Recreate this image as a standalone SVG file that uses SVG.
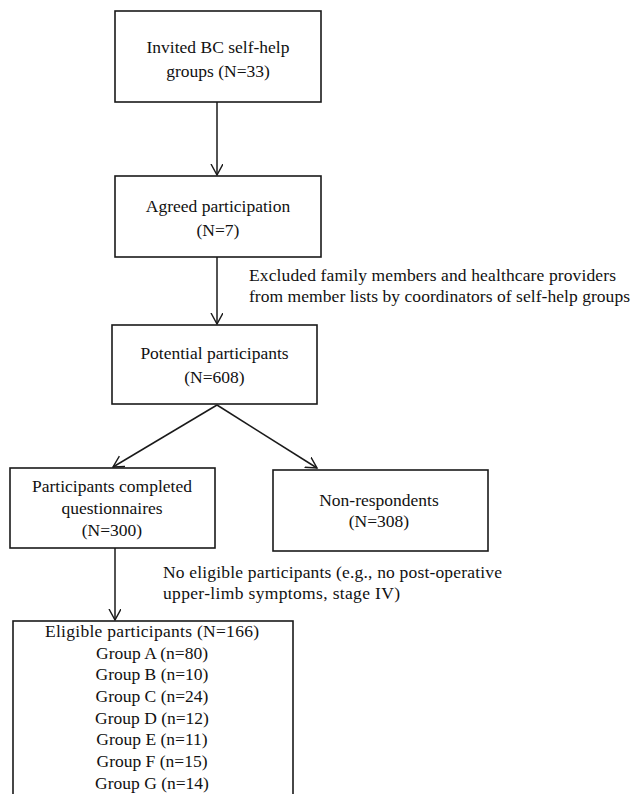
<svg xmlns="http://www.w3.org/2000/svg" width="632" height="794" viewBox="0 0 632 794">
<style>
.box{fill:#fff;stroke:#1a1a1a;stroke-width:1.6}
.t{font-family:"Liberation Serif","Times New Roman",serif;font-size:17.5px;fill:#111}
.c{text-anchor:middle}
.ln{stroke:#1a1a1a;stroke-width:1.5;fill:none}
</style>
<defs>
<marker id="ah" markerUnits="userSpaceOnUse" markerWidth="14" markerHeight="14" refX="11" refY="6" orient="auto">
<path d="M0,0 L11,6 L0,12" fill="none" stroke="#1a1a1a" stroke-width="1.4"/>
</marker>
</defs>
<rect width="632" height="794" fill="#fff"/>
<g id="connectors">
<line class="ln" x1="217" y1="102" x2="217" y2="175" marker-end="url(#ah)"/>
<line class="ln" x1="217" y1="257" x2="217" y2="324" marker-end="url(#ah)"/>
<line class="ln" x1="217" y1="405" x2="113" y2="467" marker-end="url(#ah)"/>
<line class="ln" x1="217" y1="405" x2="317" y2="468" marker-end="url(#ah)"/>
<line class="ln" x1="115" y1="548" x2="115" y2="620" marker-end="url(#ah)"/>
</g>
<g id="n1">
<rect class="box" x="115" y="11" width="206" height="91"/>
<text class="t c" x="218" y="53">Invited BC self-help</text>
<text class="t c" x="218" y="77">groups (N=33)</text>
</g>
<g id="n2">
<rect class="box" x="115" y="176" width="206" height="81"/>
<text class="t c" x="218" y="212">Agreed participation</text>
<text class="t c" x="218" y="236">(N=7)</text>
</g>
<g id="excl1">
<text class="t" x="249" y="281" textLength="367" lengthAdjust="spacing">Excluded family members and healthcare providers</text>
<text class="t" x="249" y="302" textLength="381" lengthAdjust="spacing">from member lists by coordinators of self-help groups</text>
</g>
<g id="n3">
<rect class="box" x="112" y="325" width="205" height="79"/>
<text class="t c" x="214.5" y="359">Potential participants</text>
<text class="t c" x="214.5" y="383">(N=608)</text>
</g>
<g id="n4">
<rect class="box" x="10" y="468" width="205" height="80"/>
<text class="t c" x="112" y="492">Participants completed</text>
<text class="t c" x="112" y="514">questionnaires</text>
<text class="t c" x="112" y="536">(N=300)</text>
</g>
<g id="n5">
<rect class="box" x="273" y="470" width="215" height="81"/>
<text class="t c" x="379" y="506">Non-respondents</text>
<text class="t c" x="379" y="527">(N=308)</text>
</g>
<g id="excl2">
<text class="t" x="163" y="578" textLength="339" lengthAdjust="spacing">No eligible participants (e.g., no post-operative</text>
<text class="t" x="163" y="599" textLength="237" lengthAdjust="spacing">upper-limb symptoms, stage IV)</text>
</g>
<g id="n6">
<rect class="box" x="13" y="621" width="280" height="190"/>
<text class="t c" x="152" y="637" textLength="214" lengthAdjust="spacing">Eligible participants (N=166)</text>
<text class="t c" x="152" y="659">Group A (n=80)</text>
<text class="t c" x="152" y="680">Group B (n=10)</text>
<text class="t c" x="152" y="702">Group C (n=24)</text>
<text class="t c" x="152" y="724">Group D (n=12)</text>
<text class="t c" x="152" y="745">Group E (n=11)</text>
<text class="t c" x="152" y="767">Group F (n=15)</text>
<text class="t c" x="152" y="789">Group G (n=14)</text>
</g>
</svg>
